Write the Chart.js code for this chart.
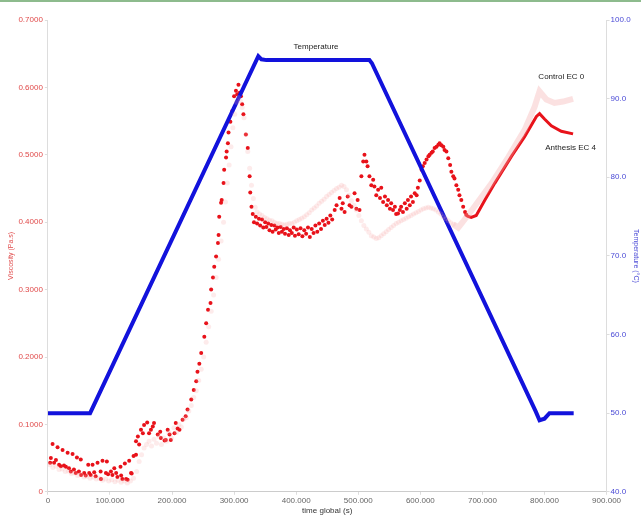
<!DOCTYPE html>
<html>
<head>
<meta charset="utf-8">
<script src="https://cdn.jsdelivr.net/npm/chart.js@4/dist/chart.umd.min.js"></script>
<style>
  html, body { margin: 0; padding: 0; background: #fff; }
  #wrap { position: relative; width: 641px; height: 516px; }
  #topline { position: absolute; left: 0; top: 0; width: 641px; height: 2px; background: #8dbb8d; }
</style>
</head>
<body>
<div id="wrap">
  <canvas id="chart" width="641" height="516"></canvas>
  <div id="topline"></div>
</div>
<script>
// time in thousands of seconds, viscosity in Pa.s, temperature in °C
let anthesisDots = [
  [3.7,0.043],[4.8,0.050],[7.6,0.071],[10,0.043],[13,0.047],[15.6,0.066],[18,0.040],[21,0.038],
  [23.7,0.062],[26,0.039],[29,0.037],[31.8,0.058],[34,0.035],[37,0.030],[39.8,0.056],[42,0.033],
  [45,0.028],[46.8,0.051],[50,0.030],[53,0.048],[53.5,0.025],[58.5,0.028],[61,0.024],[65,0.040],
  [66.6,0.028],[69,0.025],[72,0.040],[74.7,0.029],[77,0.023],[80,0.043],[85,0.030],[85.5,0.019],
  [88,0.046],[93.5,0.028],[95,0.045],[97,0.026],[101.6,0.030],[104,0.025],[107,0.035],[110,0.028],
  [112,0.022],[117,0.037],[118,0.024],[120,0.019],[124,0.042],[126,0.019],[128.5,0.018],[131,0.046],
  [134,0.028],[135,0.027],[138,0.053],[142,0.055],
  [142,0.075],[145,0.082],[147,0.070],[150,0.092],[153,0.087],[155,0.099],[160,0.103],[163,0.087],
  [166,0.092],[169,0.097],[171,0.102],[177,0.085],[181,0.089],[182,0.080],[188,0.076],[190,0.077],
  [193,0.092],[196,0.085],[198,0.077],[204,0.087],[206,0.102],[209,0.094],[212,0.092],[217,0.107],
  [222,0.112],[225,0.122],[231,0.137],[235,0.151],[239,0.164],
  [241,0.178],[244,0.190],[247,0.206],[252,0.230],[255,0.250],[258,0.270],[262,0.280],[263,0.300],
  [266,0.318],[268,0.334],[271,0.349],[274,0.369],[275,0.381],[276,0.408],[279,0.429],[280,0.433],
  [283,0.458],[284,0.478],[287,0.496],[288,0.505],[290,0.517],[291,0.533],[294,0.549],[297,0.565],
  [300,0.587],[303,0.595],[305,0.590],[307,0.604],[309,0.592],[311,0.587],[313,0.575],[315,0.560],
  [319,0.530],[322,0.510],[325,0.468],[326,0.444],[328,0.423],
  [330,0.412],[332,0.400],[335,0.408],[337,0.398],[340,0.405],[342,0.395],[345,0.404],[347,0.392],
  [350,0.400],[352,0.393],[355,0.398],[357,0.388],[360,0.396],[362,0.386],[365,0.395],[367,0.389],
  [370,0.392],[372,0.384],[375,0.393],[377,0.386],[380,0.390],[382,0.383],[385,0.391],[388,0.381],
  [390,0.388],[393,0.384],[396,0.392],[398,0.380],[401,0.389],[404,0.382],[407,0.391],[410,0.379],
  [413,0.388],[416,0.383],[419,0.392],[422,0.378],[425,0.390],[428,0.384],[431,0.395],[434,0.386],
  [437,0.398],[440,0.390],[443,0.402],[446,0.396],[449,0.405],[452,0.399],[455,0.410],[458,0.404],
  [462,0.418],[465,0.425],
  [470,0.436],[473,0.420],[475,0.428],[478,0.415],[483,0.438],[486,0.425],[489,0.423],[494,0.443],
  [497,0.420],[499,0.433],[502,0.418],[505,0.468],[508,0.490],[510,0.500],[513,0.490],[515,0.483],
  [518,0.468],[521,0.455],[524,0.463],[526,0.453],[529,0.440],[532,0.448],[535,0.436],[537,0.451],
  [540,0.430],[543,0.438],[546,0.425],[548,0.433],[551,0.420],[553,0.428],[556,0.418],[559,0.423],
  [561,0.412],[564,0.413],[567,0.418],[569,0.423],[572,0.415],[575,0.428],[578,0.420],[580,0.433],
  [583,0.425],[585,0.438],[588,0.430],[591,0.443],[594,0.440],[596,0.451],[599,0.462],[602,0.478],
  [604,0.483],[607,0.488],[610,0.493],[613,0.498],[615,0.500],[618,0.503],[620,0.505],[623,0.510],
  [626,0.512],[629,0.515],[631,0.517],[634,0.514],[637,0.512],[639,0.507],[642,0.505],[645,0.495],
  [648,0.485],[650,0.475],[653,0.468],[655,0.465],[658,0.455],[661,0.448],[663,0.440],[666,0.433],
  [669,0.423],[672,0.415],[674,0.411]
];
let anthesisTail = [
  [674,0.411],[676,0.409],[682,0.407],[690,0.410],[704,0.433],[720,0.458],[747,0.498],[768,0.527],
  [787,0.557],[792,0.561],[800,0.553],[811,0.543],[827,0.535],[846,0.531]
];
let controlDots = [
  [3,0.040],[8,0.036],[13,0.038],[18,0.033],[23,0.034],[28,0.030],[33,0.031],[38,0.027],[43,0.028],
  [48,0.024],[53,0.026],[58,0.022],[63,0.023],[68,0.020],[73,0.022],[78,0.019],[83,0.020],[88,0.017],
  [93,0.019],[98,0.016],[103,0.018],[108,0.015],[113,0.017],[118,0.014],[123,0.016],[128,0.013],
  [133,0.016],[138,0.020],[143,0.030],[147,0.045],[151,0.055],[155,0.065],
  [159,0.070],[163,0.075],[167,0.068],[171,0.078],[175,0.072],[179,0.082],[183,0.070],[187,0.080],
  [191,0.075],[195,0.088],[199,0.080],[203,0.095],[207,0.088],[211,0.100],[215,0.096],[219,0.108],
  [223,0.110],[227,0.120],[231,0.128],[235,0.140],[239,0.150],[243,0.165],
  [247,0.182],[251,0.200],[255,0.222],[259,0.245],[263,0.268],[267,0.292],[271,0.318],[275,0.345],
  [279,0.372],[283,0.400],[286,0.430],[289,0.458],[292,0.485],[295,0.512],[298,0.540],[301,0.560],
  [304,0.578],[307,0.585],[310,0.580],[313,0.570],[316,0.555],[319,0.530],[322,0.505],[325,0.480],
  [328,0.455],[331,0.435],[334,0.422],
  [337,0.415],[341,0.412],[345,0.410],[349,0.407],[353,0.405],[357,0.403],[361,0.402],[365,0.400],
  [369,0.398],[373,0.398],[377,0.397],[381,0.396],[385,0.397],[389,0.398],[393,0.398],[397,0.400],
  [401,0.402],[405,0.404],[409,0.406],[413,0.408],[417,0.411],[421,0.414],[425,0.418],[429,0.421],
  [433,0.424],[437,0.428],[441,0.431],[445,0.434],[449,0.438],[453,0.441],[457,0.444],[461,0.447],
  [465,0.450],[469,0.452],[473,0.455],[477,0.453],[481,0.448],[485,0.440],[489,0.432],[493,0.425],
  [497,0.418],[501,0.410],[505,0.402],[509,0.395],[513,0.390],[517,0.385],[521,0.380],[525,0.378],
  [529,0.376],[533,0.377],[537,0.380],[541,0.383],[545,0.386],[549,0.389],[553,0.392],[557,0.395],
  [561,0.398],[565,0.400],[569,0.402],[573,0.404],[577,0.406],[581,0.408],[585,0.410],[589,0.412],
  [593,0.414],[597,0.416],[601,0.418],[605,0.420],[609,0.421],[613,0.422],[617,0.421],[621,0.420],
  [625,0.418],[629,0.415],[633,0.412],[637,0.408],[641,0.405],[645,0.402],[649,0.399],[653,0.397]
];
let controlTail = [
  [653,0.397],[661,0.392],[668,0.400],[687,0.423],[715,0.458],[742,0.497],[768,0.537],[784,0.571],
  [792,0.594],[803,0.582],[816,0.577],[830,0.579],[846,0.583]
];
let temperature = [
  [0,50],[68,50],[339,95.4],[344,95.0],[352,94.9],[518,94.9],[522,94.5],[786,50.2],[792,49.1],
  [800,49.3],[808,50],[847,50]
];

let xTicks = [0, 100, 200, 300, 400, 500, 600, 700, 800, 900];

let labels = [
  { text: "Temperature", x: 432, y: 96.6, axis: "y1" },
  { text: "Control EC 0", x: 827, y: 0.616, axis: "y" },
  { text: "Anthesis EC 4", x: 842, y: 0.51, axis: "y" }
];

function toXY(arr) {
    return arr.map(p => ({ x: p[0], y: p[1] }));
}

const textFont = "Liberation Sans, Arial, sans-serif";

let labelPlugin = {
    id: "labels",
    afterDatasetsDraw(chart) {
        let ctx = chart.ctx;
        ctx.save();
        ctx.font = "8px " + textFont;
        ctx.fillStyle = "#222";
        ctx.textAlign = "center";
        ctx.textBaseline = "middle";
        labels.forEach(l => {
            let px = chart.scales.x.getPixelForValue(l.x);
            let py = chart.scales[l.axis].getPixelForValue(l.y);
            ctx.fillText(l.text, px, py);
        });
        ctx.restore();
    }
};

new Chart(document.getElementById("chart"), {
    type: "scatter",
    data: {
        datasets: [
            {
                label: "Control EC 0 tail",
                data: toXY(controlTail),
                showLine: true,
                borderColor: "rgba(244,170,170,0.35)",
                borderWidth: 6,
                pointRadius: 0,
                yAxisID: "y"
            },
            {
                label: "Control EC 0",
                data: toXY(controlDots),
                backgroundColor: "rgba(244,165,165,0.22)",
                borderWidth: 0,
                pointRadius: 2.5,
                yAxisID: "y"
            },
            {
                label: "Temperature",
                data: toXY(temperature),
                showLine: true,
                borderColor: "#1212dc",
                borderWidth: 4,
                pointRadius: 0,
                yAxisID: "y1"
            },
            {
                label: "Anthesis EC 4 tail",
                data: toXY(anthesisTail),
                showLine: true,
                borderColor: "#e8121a",
                borderWidth: 3,
                pointRadius: 0,
                yAxisID: "y"
            },
            {
                label: "Anthesis EC 4",
                data: toXY(anthesisDots),
                backgroundColor: "#e8121a",
                borderWidth: 0,
                pointRadius: 2,
                yAxisID: "y"
            }
        ]
    },
    options: {
        responsive: false,
        animation: false,
        devicePixelRatio: 1,
        layout: { padding: { left: 7, right: 0, top: 20, bottom: 0 } },
        plugins: {
            legend: { display: false },
            tooltip: { enabled: false }
        },
        scales: {
            x: {
                type: "linear",
                min: 0,
                max: 900,
                afterBuildTicks: (axis) => { axis.ticks = xTicks.map(v => ({ value: v })); },
                ticks: {
                    color: "#666",
                    font: { family: textFont, size: 8 },
                    padding: 1,
                    maxRotation: 0,
                    callback: (v) => v === 0 ? "0" : v + ".000"
                },
                grid: { drawOnChartArea: false, tickLength: 3, color: "#ddd" },
                border: { color: "#ccc", dash: [2, 2] },
                title: {
                    display: true,
                    text: "time global (s)",
                    color: "#333",
                    font: { family: textFont, size: 8 },
                    padding: { top: 0, bottom: 0 }
                }
            },
            y: {
                position: "left",
                min: 0,
                max: 0.7,
                ticks: {
                    stepSize: 0.1,
                    color: "#e04a4a",
                    font: { family: textFont, size: 8 },
                    padding: 2,
                    callback: (v) => v === 0 ? "0" : v.toFixed(4)
                },
                grid: { drawOnChartArea: false, tickLength: 3, color: "#ddd" },
                border: { color: "#ddd" },
                title: {
                    display: true,
                    text: "Viscosity (Pa.s)",
                    color: "#e04a4a",
                    font: { family: textFont, size: 7 },
                    padding: { top: 0, bottom: 1 }
                }
            },
            y1: {
                position: "right",
                min: 40,
                max: 100,
                ticks: {
                    stepSize: 10,
                    color: "#4a4ad6",
                    font: { family: textFont, size: 8 },
                    padding: 1,
                    callback: (v) => v.toFixed(1)
                },
                grid: { drawOnChartArea: false, tickLength: 3, color: "#ddd" },
                border: { color: "#ddd", dash: [2, 2] },
                title: {
                    display: true,
                    text: "Temperature (°C)",
                    color: "#4a4ad6",
                    font: { family: textFont, size: 7 },
                    padding: { top: 1, bottom: 0 }
                }
            }
        }
    },
    plugins: [labelPlugin]
});
</script>
</body>
</html>
